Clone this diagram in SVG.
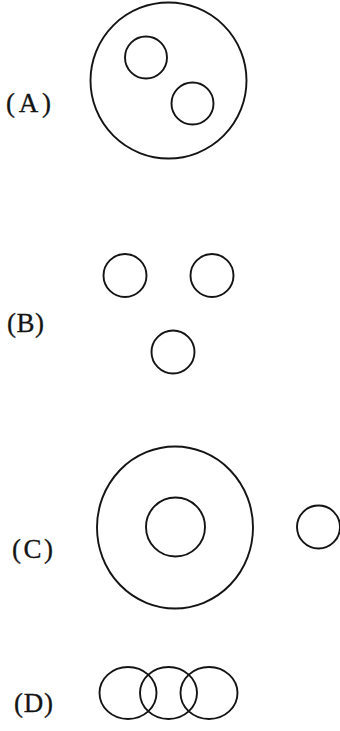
<svg xmlns="http://www.w3.org/2000/svg" width="340" height="731" viewBox="0 0 340 731">
<style>
.c{fill:none;stroke:#141414;stroke-width:1.9}
.t{font-family:"Liberation Serif","Times New Roman",serif;fill:#141414;stroke:#141414;stroke-width:0.3;font-size:27px}
</style>
<rect width="340" height="731" fill="#ffffff"/>
<g id="A">
<text class="t" x="6" y="112" textLength="45" lengthAdjust="spacing">(A)</text>
<circle class="c" cx="168.5" cy="80.5" r="78"/>
<circle class="c" cx="146" cy="57.5" r="21"/>
<circle class="c" cx="192.5" cy="103.5" r="21"/>
</g>
<g id="B">
<text class="t" x="7" y="332" textLength="37" lengthAdjust="spacing">(B)</text>
<circle class="c" cx="125" cy="275.5" r="21.5"/>
<circle class="c" cx="212" cy="275.5" r="21.5"/>
<circle class="c" cx="173" cy="352" r="21.5"/>
</g>
<g id="C">
<text class="t" x="12" y="558" textLength="41" lengthAdjust="spacing">(C)</text>
<ellipse class="c" cx="175" cy="527.5" rx="78" ry="81"/>
<circle class="c" cx="175.5" cy="527" r="29.5"/>
<circle class="c" cx="318.5" cy="527" r="21.5"/>
</g>
<g id="D">
<text class="t" x="14" y="712" textLength="39" lengthAdjust="spacing">(D)</text>
<ellipse class="c" cx="128" cy="693" rx="28.5" ry="26"/>
<ellipse class="c" cx="168.5" cy="693" rx="28.5" ry="26"/>
<ellipse class="c" cx="209" cy="693" rx="28.5" ry="26"/>
</g>
</svg>
